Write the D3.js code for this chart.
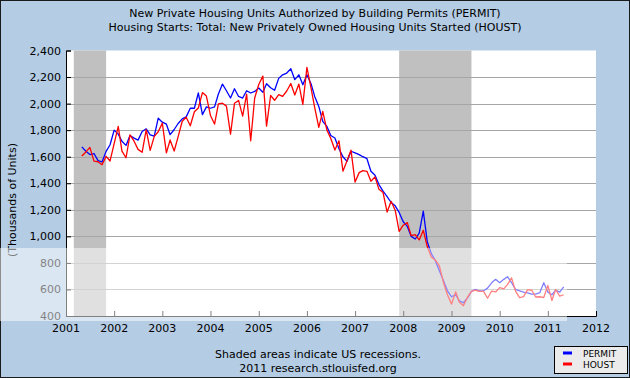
<!DOCTYPE html>
<html><head><meta charset="utf-8">
<script src="https://cdn.jsdelivr.net/npm/d3@7"></script>
<style>
html,body{margin:0;padding:0;background:#fff;}
svg{display:block;}
text{font-family:"DejaVu Sans",Verdana,sans-serif;fill:#000;}
</style></head>
<body><svg id="c" width="630" height="378"></svg>
<script>
// ---- data ----
const titleLines = ["New Private Housing Units Authorized by Building Permits (PERMIT)",
  "Housing Starts: Total: New Privately Owned Housing Units Started (HOUST)"];
const startMonth = "2001-05";
const permit = [
 1674,1641,1616,1624,1571,1560,1640,1690,
 1800,1770,1716,1685,1760,1740,1725,1790,1810,1765,1755,1890,
 1860,1845,1766,1805,1850,1885,1900,1965,1965,2080,1917,1975,
 1965,1975,2072,2147,2097,2042,2112,2054,2042,2097,2080,2092,
 2117,2085,2150,2120,2100,2190,2217,2230,2263,2180,2217,2142,
 2217,2150,2054,1979,1866,1829,1760,1741,1660,1600,1565,1641,
 1629,1616,1600,1585,1490,1460,1390,1340,1300,1255,1230,1180,
 1110,1075,1000,980,1025,1190,960,870,815,740,665,590,
 545,560,515,500,535,585,600,590,590,610,650,676,
 651,676,696,651,600,590,580,575,565,565,576,651,
 580,560,595,580,620];
const houst = [
 1605,1636,1670,1567,1562,1540,1602,1568,
 1698,1829,1642,1592,1764,1717,1655,1633,1804,1648,1753,1788,
 1853,1629,1726,1643,1751,1867,1897,1833,1939,1967,2083,2057,
 1911,1846,1998,2003,1981,1770,2002,2024,1905,2072,1720,2042,
 2144,2207,1830,2061,2025,2068,2054,2095,2151,2065,2147,1994,
 2273,2119,1969,1821,1942,1802,1737,1650,1720,1491,1570,1649,
 1409,1480,1495,1490,1415,1448,1354,1330,1183,1264,1197,1037,
 1084,1103,1005,1013,973,1046,923,844,820,777,652,560,
 490,582,505,478,540,585,594,586,585,534,588,581,
 614,604,636,687,588,539,546,599,594,543,545,539,
 630,517,600,549,560];
const recessions = [["2001-03","2001-11"],["2007-12","2009-06"]];
const yTicks = [400,600,800,1000,1200,1400,1600,1800,2000,2200,2400];
const xYears = [2001,2002,2003,2004,2005,2006,2007,2008,2009,2010,2011,2012];
const seriesNames = ["PERMIT","HOUST"];
const seriesColors = ["#0000ff","#ff0000"];
const yLabel = "(Thousands of Units)";
const footLines = ["Shaded areas indicate US recessions.","2011 research.stlouisfed.org"];

// ---- layout ----
const W=630,H=378;
const L=66,R=596,T=50.5,B=316;
const svg=d3.select("#c");
const parseM=d3.timeParse("%Y-%m");
const x=d3.scaleTime().domain([new Date(2001,0,1),new Date(2012,0,1)]).range([L,R]);
const y=d3.scaleLinear().domain([400,2400]).range([B,T]);
const start=parseM(startMonth);
const toPts=vals=>vals.map((v,i)=>({d:d3.timeMonth.offset(start,i),v}));

svg.append("rect").attr("x",0).attr("y",0).attr("width",W).attr("height",H).attr("fill","#b4cce4");
svg.append("rect").attr("x",0.5).attr("y",0.5).attr("width",W-1).attr("height",H-1).attr("fill","none").attr("stroke","#1a1a1a");

// plot bg
svg.append("rect").attr("x",L).attr("y",T).attr("width",R-L).attr("height",B-T).attr("fill","#fff");
// recessions
svg.selectAll("rect.rec").data(recessions).join("rect").attr("class","rec")
 .attr("x",d=>x(parseM(d[0]))).attr("width",d=>x(parseM(d[1]))-x(parseM(d[0])))
 .attr("y",T).attr("height",B-T).attr("fill","#c0c0c0");
// grid
svg.selectAll("line.grid").data(yTicks.slice(1,-1)).join("line").attr("class","grid")
 .attr("x1",L).attr("x2",R).attr("y1",d=>Math.round(y(d))+0.5).attr("y2",d=>Math.round(y(d))+0.5)
 .attr("stroke","#a6a6a6").attr("stroke-width",1);

// lines
const line=d3.line().x(d=>x(d.d)).y(d=>y(d.v));
[permit,houst].forEach((s,i)=>{
 svg.append("path").datum(toPts(s)).attr("d",line).attr("fill","none")
  .attr("stroke",seriesColors[i]).attr("stroke-width",1.3).attr("stroke-linejoin","round");
});

// axes
const yAx=svg.append("g").attr("transform",`translate(${L},0)`)
 .call(d3.axisRight(y).tickValues(yTicks).tickSize(5).tickFormat(""));
yAx.select(".domain").attr("stroke","#000");
yAx.selectAll(".tick line").attr("stroke","#000");
svg.selectAll("text.yl").data(yTicks).join("text").attr("class","yl")
 .attr("x",L-5).attr("y",d=>y(d)+4).attr("text-anchor","end").attr("font-size",11).text(d3.format(","));
const xAx=svg.append("g").attr("transform",`translate(0,${B})`)
 .call(d3.axisTop(x).tickValues(xYears.map(v=>new Date(v,0,1))).tickSize(5).tickFormat(""));
xAx.select(".domain").attr("stroke","#000");
xAx.selectAll(".tick line").attr("stroke","#000");
svg.selectAll("text.xl").data(xYears).join("text").attr("class","xl")
 .attr("x",d=>x(new Date(d,0,1))).attr("y",B+16).attr("text-anchor","middle").attr("font-size",11).text(d=>d);

// titles
svg.selectAll("text.tt").data(titleLines).join("text").attr("class","tt")
 .attr("x",315).attr("y",(d,i)=>17+i*14).attr("text-anchor","middle").attr("font-size",11).text(d=>d);
svg.append("text").attr("transform","translate(16,200) rotate(-90)").attr("text-anchor","middle")
 .attr("font-size",11).text(yLabel);
svg.selectAll("text.ft").data(footLines).join("text").attr("class","ft")
 .attr("x",318).attr("y",(d,i)=>358+i*14).attr("text-anchor","middle").attr("font-size",11).text(d=>d);

// legend
const lg=svg.append("g");
lg.append("rect").attr("x",554.5).attr("y",346.5).attr("width",73).attr("height",27).attr("fill","#ebebeb").attr("stroke","#000");
seriesNames.forEach((n,i)=>{
 lg.append("line").attr("x1",563).attr("x2",572).attr("y1",353+i*11).attr("y2",353+i*11).attr("stroke",seriesColors[i]).attr("stroke-width",3);
 lg.append("text").attr("x",583).attr("y",357+i*11).attr("font-size",9).text(n);
});

// image-host watermark band (lightening overlay)
svg.append("rect").attr("x",0).attr("y",248).attr("width",567).attr("height",73).attr("fill","#fff").attr("opacity",0.5);
</script></body></html>
